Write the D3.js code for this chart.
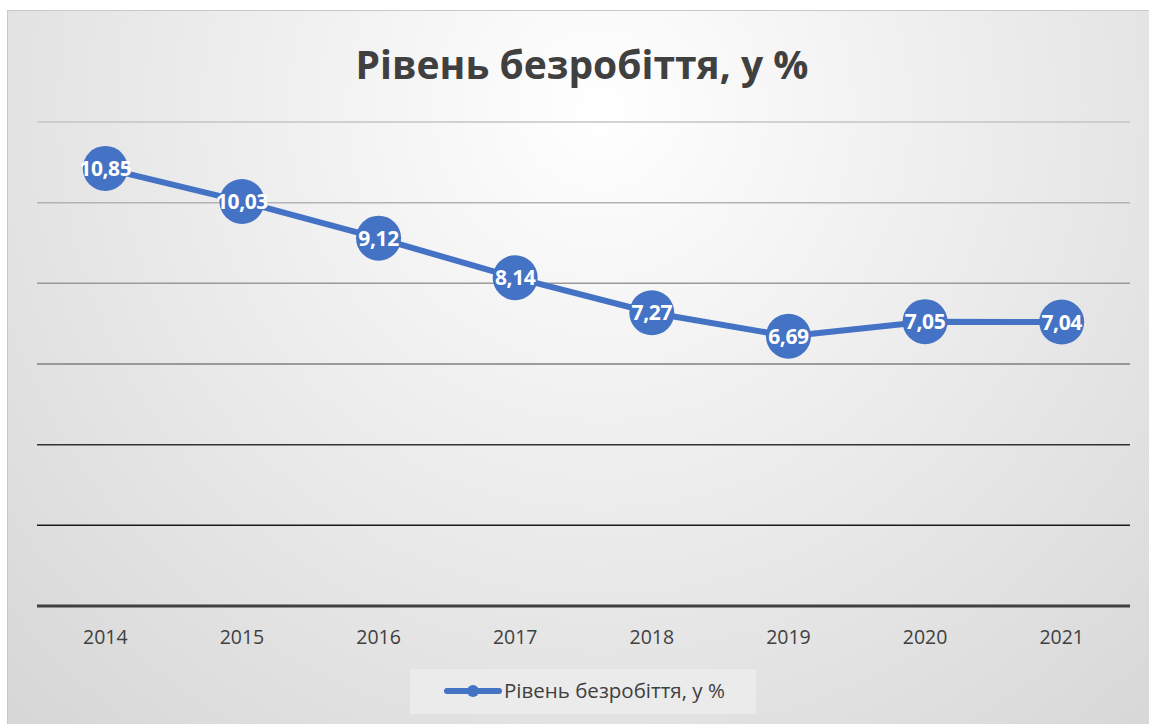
<!DOCTYPE html>
<html>
<head>
<meta charset="utf-8">
<script src="https://cdn.jsdelivr.net/npm/d3@7"></script>
<style>
  body { margin: 0; background: #fff; }
  text { font-family: "Open Sans", "Noto Sans", sans-serif; }
</style>
</head>
<body>
<div id="chart"></div>
<script>
// data
var years = ["2014", "2015", "2016", "2017", "2018", "2019", "2020", "2021"];
var rates = [10.85, 10.03, 9.12, 8.14, 7.27, 6.69, 7.05, 7.04];
var yTicks = [0, 2, 4, 6, 8, 10, 12];
var seriesName = "Рівень безробіття, у %";

var svgWidth = 1149;
var svgHeight = 724;

var margin = { top: 122, right: 19, bottom: 118, left: 37 };
var width = svgWidth - margin.left - margin.right;
var height = svgHeight - margin.top - margin.bottom;

var svg = d3.select("#chart")
  .append("svg")
  .attr("width", svgWidth)
  .attr("height", svgHeight);

// background gradient
var defs = svg.append("defs");
var bg = defs.append("radialGradient")
  .attr("id", "bg")
  .attr("gradientUnits", "userSpaceOnUse")
  .attr("cx", 600).attr("cy", 110).attr("r", 900);
bg.append("stop").attr("offset", "0%").attr("stop-color", "#ffffff");
bg.append("stop").attr("offset", "100%").attr("stop-color", "#d4d4d4");

svg.append("rect")
  .attr("x", 7.5).attr("y", 10.5)
  .attr("width", 1160).attr("height", 730)
  .attr("fill", "url(#bg)")
  .attr("stroke", "#c8c8c8")
  .attr("stroke-width", 1);

var chartGroup = svg.append("g")
  .attr("transform", `translate(${margin.left}, ${margin.top})`);

// scales
var xScale = d3.scaleBand()
  .domain(years)
  .range([0, width]);

var yScale = d3.scaleLinear()
  .domain([0, 12])
  .range([height, 0]);

// gridlines, darker toward the bottom
var gridColor = d3.scaleLinear()
  .domain([0, 2, 4, 6, 8, 10, 12])
  .range(["#404040", "#1a1a1a", "#333333", "#7f7f7f", "#9a9a9a", "#b3b3b3", "#c4c4c4"]);

chartGroup.selectAll(".grid")
  .data(yTicks)
  .enter()
  .append("line")
  .attr("x1", 0)
  .attr("x2", width)
  .attr("y1", d => yScale(d))
  .attr("y2", d => yScale(d))
  .attr("stroke", d => gridColor(d))
  .attr("stroke-width", d => d === 0 ? 3 : 1.5);

// x axis labels
var xAxis = d3.axisBottom(xScale).tickSize(0).tickPadding(24);
var xg = chartGroup.append("g")
  .attr("transform", `translate(0, ${height})`)
  .call(xAxis);
xg.select(".domain").remove();
xg.selectAll("text")
  .attr("font-size", "19.5px")
  .attr("fill", "#404040")
  .style("font-family", "'Open Sans', 'Noto Sans', sans-serif");

// line
var line = d3.line()
  .x((d, i) => xScale(years[i]) + xScale.bandwidth() / 2)
  .y(d => yScale(d));

chartGroup.append("path")
  .datum(rates)
  .attr("d", line)
  .attr("fill", "none")
  .attr("stroke", "#4472c4")
  .attr("stroke-width", 6)
  .attr("stroke-linejoin", "round");

// markers
chartGroup.selectAll("circle")
  .data(rates)
  .enter()
  .append("circle")
  .attr("cx", (d, i) => xScale(years[i]) + xScale.bandwidth() / 2)
  .attr("cy", d => yScale(d))
  .attr("r", 22.5)
  .attr("fill", "#4472c4");

// labels
chartGroup.selectAll(".label")
  .data(rates)
  .enter()
  .append("text")
  .attr("x", (d, i) => xScale(years[i]) + xScale.bandwidth() / 2)
  .attr("y", d => yScale(d))
  .attr("dy", "0.36em")
  .attr("text-anchor", "middle")
  .attr("font-size", "21px")
  .attr("font-weight", "bold")
  .attr("fill", "#ffffff")
  .attr("letter-spacing", "-0.4px")
  .text(d => d.toFixed(2).replace(".", ","));

// title
svg.append("text")
  .attr("x", 582)
  .attr("y", 79)
  .attr("text-anchor", "middle")
  .attr("font-size", "39px")
  .attr("font-weight", "bold")
  .attr("fill", "#404040")
  .text(seriesName);

// legend
var legend = svg.append("g");
legend.append("rect")
  .attr("x", 410).attr("y", 669)
  .attr("width", 346).attr("height", 45)
  .attr("fill", "#ebebeb");
legend.append("line")
  .attr("x1", 447).attr("x2", 499)
  .attr("y1", 691).attr("y2", 691)
  .attr("stroke", "#4472c4")
  .attr("stroke-width", 6)
  .attr("stroke-linecap", "round");
legend.append("circle")
  .attr("cx", 473).attr("cy", 691).attr("r", 6)
  .attr("fill", "#4472c4");
legend.append("text")
  .attr("x", 504).attr("y", 698)
  .attr("font-size", "20.5px")
  .attr("fill", "#404040")
  .text(seriesName);
</script>
</body>
</html>
